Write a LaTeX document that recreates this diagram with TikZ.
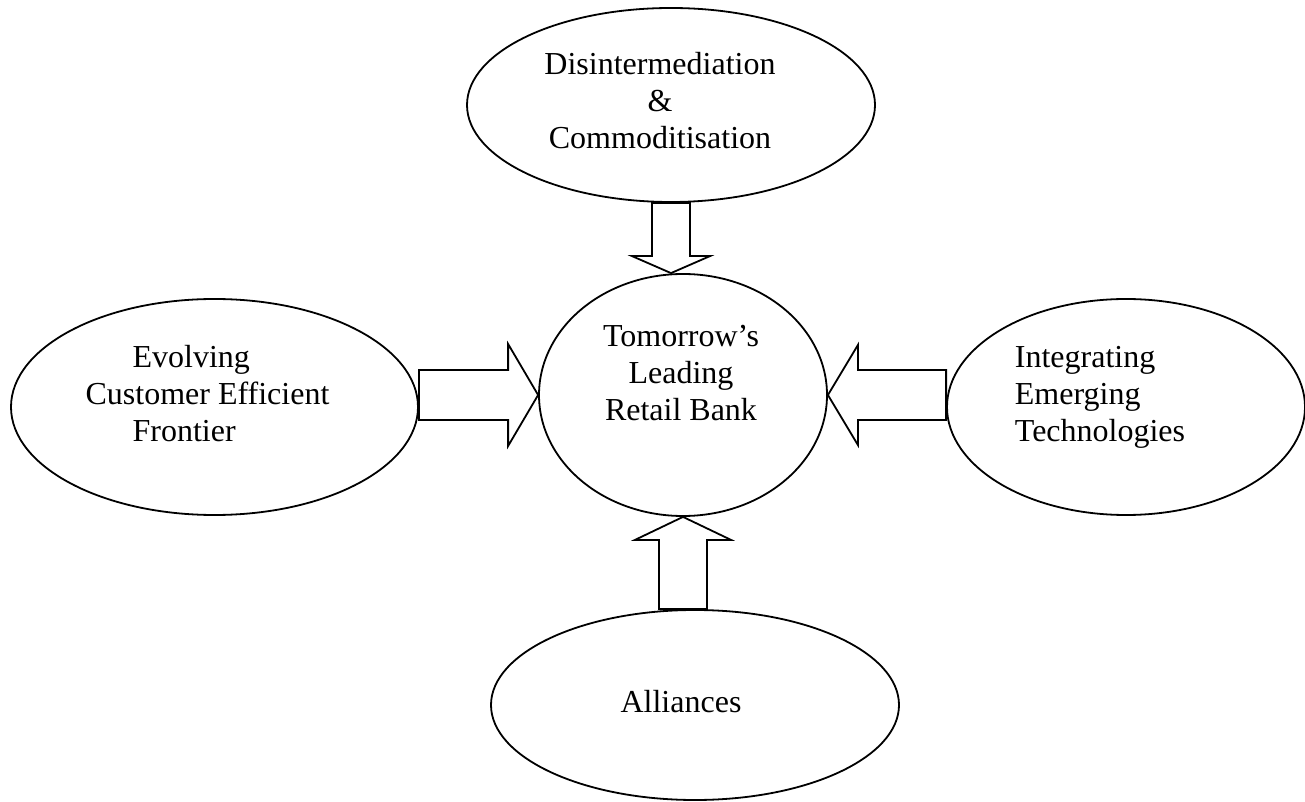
\documentclass[tikz,border=0pt]{standalone}
\usepackage{fontspec}
\setmainfont{Liberation Serif}
\usetikzlibrary{shapes.geometric,calc}

% hollow block arrow: from, tip, half shaft, half head, head length
\newcommand{\fatarrow}[5]{%
	\coordinate (fah) at ($(#2)!#5!(#1)$);
	\draw[blockline] ($(#1)!#3!90:(#2)$) -- ($(fah)!#3!90:(#2)$) -- ($(fah)!#4!90:(#2)$) -- (#2)
	-- ($(fah)!#4!-90:(#2)$) -- ($(fah)!#3!-90:(#2)$) -- ($(#1)!#3!-90:(#2)$) -- cycle;
}

\begin{document}
\begin{tikzpicture}[x=1pt,y=1pt,line width=1.8pt,
		bubble/.style={draw,ellipse,inner sep=0pt},
		words/.style={font=\fontsize{32}{37}\selectfont,inner sep=0pt},
		blockline/.style={line join=miter}]
		\useasboundingbox (0,0) rectangle (1305,801);
		% the five ellipses
		\node[bubble,minimum width=408pt,minimum height=194pt] (dis) at (671,696) {};
		\node[bubble,minimum width=288pt,minimum height=242pt] (hub) at (683,406) {};
		\node[bubble,minimum width=407pt,minimum height=216pt] (evo) at (214.5,394) {};
		\node[bubble,minimum width=358pt,minimum height=216pt] (tech) at (1126,394) {};
		\node[bubble,minimum width=408pt,minimum height=190pt] (ally) at (695,96) {};
		% texts
		\node[words,align=center] (disText) at (660,700.5) {Disintermediation\\\&\\Commoditisation};
		\node[words,align=center] (hubText) at (681,428.3) {Tomorrow’s\\Leading\\Retail Bank};
		\node[words,align=left] (evoText) at (207.5,407) {\hspace*{47pt}Evolving\\Customer Efficient\\\hspace*{47pt}Frontier};
		\node[words,align=left] (techText) at (1100,403.5) {Integrating\\Emerging\\Technologies};
		\node[words] (allyText) at (681,99) {Alliances};
		% block arrows into the hub
		\coordinate (disTip) at (dis.south |- hub.north);
		\coordinate (allyFoot) at (hub.south |- ally.north);
		\coordinate (evoFoot) at (evo.east |- hub.west);
		\coordinate (techFoot) at (tech.west |- hub.east);
		\fatarrow{dis.south}{disTip}{19pt}{39pt}{17pt}
		\fatarrow{allyFoot}{hub.south}{24pt}{48pt}{23pt}
		\fatarrow{evoFoot}{hub.west}{25pt}{51pt}{30pt}
		\fatarrow{techFoot}{hub.east}{25pt}{50pt}{30pt}
	\end{tikzpicture}
\end{document}
